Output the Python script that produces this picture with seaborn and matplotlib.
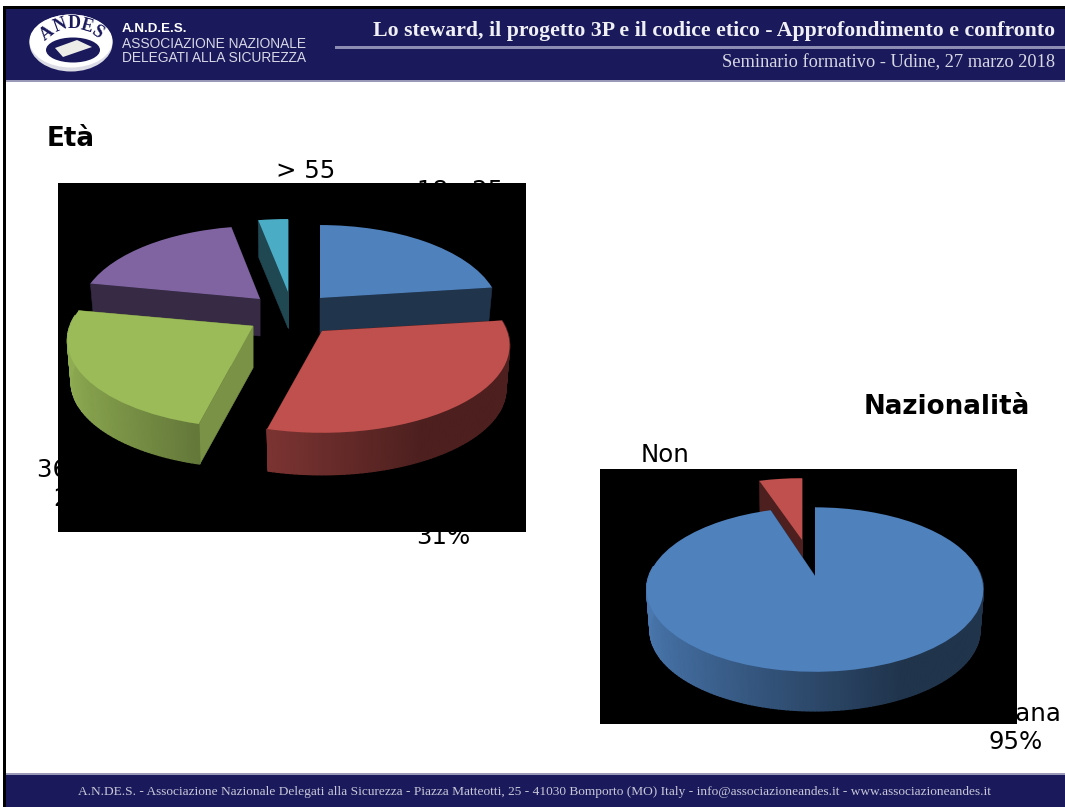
import numpy as np
import matplotlib
matplotlib.use("Agg")
import matplotlib.pyplot as plt
from matplotlib.patches import Rectangle, Ellipse, Polygon
from matplotlib.transforms import Transform
import seaborn as sns

# ---- data ----
eta_labels = ["18 - 25", "26 - 35", "36 - 45", "46 - 55", "> 55"]
eta_values = [23, 31, 24, 19, 3]
naz_labels = ["Italiana", "Non\nitaliana"]
naz_values = [95, 5]
title_header = "Lo steward, il progetto 3P e il codice etico - Approfondimento e confronto"
subtitle_header = "Seminario formativo - Udine, 27 marzo 2018"
footer_text = ("A.N.DE.S. - Associazione Nazionale Delegati alla Sicurezza - Piazza Matteotti, 25 - "
               "41030 Bomporto (MO) Italy - info@associazioneandes.it - www.associazioneandes.it")
org_lines = ["A.N.D.E.S.", "ASSOCIAZIONE NAZIONALE", "DELEGATI ALLA SICUREZZA"]

# ---- styles / layout ----
sns.set_theme(style="white")
eta_colors = sns.color_palette(["#4f81bd", "#c0504d", "#9bbb59", "#8064a2", "#4bacc6"])
naz_colors = sns.color_palette(["#4f81bd", "#c0504d"])
NAVY = "#19195c"
P = 0.165
BASE_SHRINK = 0.98


class Perspective(Transform):
    """Tilted-disc view of a unit-circle pie, anchored at the slice apex."""
    input_dims = output_dims = 2

    def __init__(self, apex, a, b, p=P):
        super().__init__()
        self.apex, self.a, self.b, self.p = apex, a, b, p

    def transform_non_affine(self, xy):
        xy = np.asarray(xy, float)
        w = 1 + self.p * xy[:, 1]
        return np.column_stack([self.apex[0] + self.a * xy[:, 0] / w,
                                self.apex[1] - self.b * xy[:, 1] / w])


def pie3d(ax, values, colors, apexes, a, b, depth, face, order):
    total = sum(values)
    wedges, _ = ax.pie(values, colors=colors, startangle=90, counterclock=False,
                       radius=1, center=(0, 0), wedgeprops=dict(linewidth=0))
    edges = np.cumsum([0] + list(values)) / total * 2 * np.pi
    for layer, i in enumerate(order):
        T = Perspective(apexes[i], a[i], b[i])
        apex = np.array(apexes[i], float)
        base = np.array(colors[i])
        z = 10 + layer
        th0, th1 = edges[i], edges[i + 1]

        def lower(pts):
            return apex + (pts - apex) * BASE_SHRINK + [0, depth[i]]

        # radial side faces
        for th in (th0, th1):
            pts = T.transform_non_affine(np.array([[0, 0], [np.sin(th), np.cos(th)]]))
            quad = np.vstack([pts, lower(pts)[::-1]])
            ax.fill(quad[:, 0], quad[:, 1], color=tuple(base * face[i]), lw=0.4, zorder=z)
        # outer wall
        ths = np.append(np.arange(th0, th1, np.radians(1.2)), th1)
        for t0, t1 in zip(ths[:-1], ths[1:]):
            if np.cos((t0 + t1) / 2) > 0.12:
                continue
            u = np.sin((t0 + t1) / 2)
            f = np.interp(u, [-1, -0.3, 0.45, 1], [0.92, 0.66, 0.40, 0.40])
            pts = T.transform_non_affine(np.array([[np.sin(t0), np.cos(t0)],
                                                   [np.sin(t1), np.cos(t1)]]))
            quad = np.vstack([pts, lower(pts)[::-1]])
            ax.fill(quad[:, 0], quad[:, 1], color=tuple(base * f), lw=1.0, zorder=z)
        wedges[i].set_transform(T + ax.transData)
        wedges[i].set_zorder(z + 0.5)


fig = plt.figure(figsize=(10.65, 8.07), dpi=100, facecolor="white")
ax = fig.add_axes([0, 0, 1, 1])

# ---- pies ----
pie3d(ax, eta_values, eta_colors,
      apexes=[(320, 298), (322, 331), (253, 326), (260, 299), (288, 292)],
      a=[177, 185, 183, 178, 185], b=[85, 85, 85, 85, 85],
      depth=[36, 44, 42, 37, 36], face=[0.40, 0.40, 0.78, 0.42, 0.42],
      order=[4, 3, 0, 2, 1])
pie3d(ax, naz_values, naz_colors,
      apexes=[(815, 576), (802, 540)],
      a=[166, 160], b=[80, 72],
      depth=[41, 39], face=[0.40, 0.40],
      order=[1, 0])

ax.set_aspect("auto")
ax.set_xlim(0, 1065)
ax.set_ylim(807, 0)
ax.set_axis_off()

# ---- black chart backgrounds hide most of the data labels, as in the slide ----
ax.add_patch(Rectangle((58, 183), 468, 349, fc="black", ec="none", zorder=5))
ax.add_patch(Rectangle((600, 469), 417, 255, fc="black", ec="none", zorder=5))

lab = dict(fontsize=17.6, color="black", ha="center", va="center", family="DejaVu Sans",
           zorder=3, linespacing=1.0)
eta_pos = [(460, 191), (443, 508), (80, 470), (130, 215), (306, 171)]
for name, val, (x, y) in zip(eta_labels, eta_values, eta_pos):
    ax.text(x, y, name, **lab)
    ax.text(x, y + 29, f"{val}%", **lab)
ax.text(1016, 714, naz_labels[0], **lab)
ax.text(1016, 742, f"{naz_values[0]}%", **lab)
for k, line in enumerate(naz_labels[1].split("\n") + [f"{naz_values[1]}%"]):
    ax.text(665, 455 + 29 * k, line, **lab)

ax.text(47, 139.5, "Età", fontsize=18.8, fontweight="bold", color="black", va="center",
        family="DejaVu Sans")
ax.text(1030, 407.5, "Nazionalità", fontsize=18.8, fontweight="bold", color="black",
        va="center", ha="right", family="DejaVu Sans")

# ---- slide frame, header and footer ----
ax.add_patch(Rectangle((3, 6), 3, 801, fc="black", ec="none", zorder=20))
ax.add_patch(Rectangle((3, 6), 1062, 3, fc="black", ec="none", zorder=20))
ax.add_patch(Rectangle((6, 9), 1059, 71, fc=NAVY, ec="none", zorder=20))
ax.add_patch(Rectangle((6, 80), 1059, 2, fc="#9a9ab8", ec="none", zorder=20))
ax.add_patch(Rectangle((6, 775), 1059, 32, fc=NAVY, ec="none", zorder=20))
ax.add_patch(Rectangle((6, 773), 1059, 2, fc="#9a9ab8", ec="none", zorder=20))
ax.add_patch(Rectangle((335, 46), 730, 2.5, fc="#8d8db4", ec="none", zorder=21))

# logo
ax.add_patch(Ellipse((71, 43), 83, 57, fc="#dcdce6", ec="none", zorder=21))
ax.add_patch(Ellipse((71, 41), 83, 53, fc="white", ec="none", zorder=22))
ax.add_patch(Ellipse((73, 50), 54, 25, fc=NAVY, ec="none", zorder=23))
ax.add_patch(Polygon([[55, 48], [77, 40], [92, 47], [63, 57]], fc="#ecece8", ec="none", zorder=24))
for ch, x, y, r in zip("ANDES", [47, 60, 74, 87, 97], [33, 26, 23, 26, 32],
                       [38, 20, 0, -16, -35]):
    ax.text(x, y, ch, fontsize=13, fontweight="bold", color=NAVY, rotation=r, ha="center",
            va="center", family="Liberation Serif", zorder=25)

ax.text(122, 29, org_lines[0], fontsize=9.6, fontweight="bold", color="white", va="center",
        family="Liberation Sans", zorder=22)
ax.text(122, 44, org_lines[1], fontsize=9.9, color="#d8d8e6", va="center",
        family="Liberation Sans", zorder=22)
ax.text(122, 58, org_lines[2], fontsize=9.9, color="#d8d8e6", va="center",
        family="Liberation Sans", zorder=22)

ax.text(1055, 31, title_header, fontsize=15.7, fontweight="bold", color="#f0f0f4", ha="right",
        va="center", family="Liberation Serif", zorder=22)
ax.text(1055, 62.5, subtitle_header, fontsize=13.2, color="#d8d8e4", ha="right", va="center",
        family="Liberation Serif", zorder=22)
ax.text(535, 792.5, footer_text, fontsize=9.6, color="#c8c8d8", ha="center", va="center",
        family="Liberation Serif", zorder=22)

fig.savefig("out.png", dpi=100, facecolor="white")
